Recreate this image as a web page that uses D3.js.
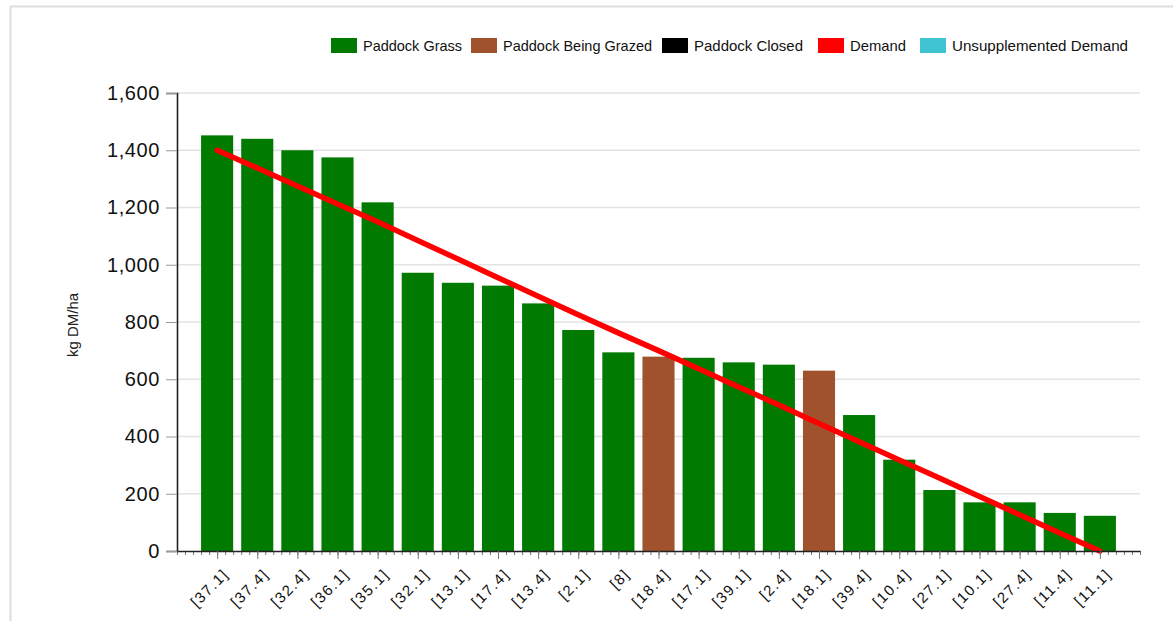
<!DOCTYPE html>
<html>
<head>
<meta charset="utf-8">
<script src="https://cdn.jsdelivr.net/npm/d3@7/dist/d3.min.js"></script>
<style>
  html, body { margin: 0; padding: 0; background: #fff; }
  svg { display: block; }
</style>
</head>
<body>
<svg id="chart" width="1173" height="621"></svg>
<script>
// ---- data ----
const paddocks = ["[37.1]","[37.4]","[32.4]","[36.1]","[35.1]","[32.1]","[13.1]","[17.4]","[13.4]","[2.1]","[8]","[18.4]","[17.1]","[39.1]","[2.4]","[18.1]","[39.4]","[10.4]","[27.1]","[10.1]","[27.4]","[11.4]","[11.1]"];
const cover = [1452,1440,1400,1375,1218,972,937,927,865,772,694,679,675,659,651,630,475,319,213,170,170,133,123];
const status = ["grass","grass","grass","grass","grass","grass","grass","grass","grass","grass","grass","grazed","grass","grass","grass","grazed","grass","grass","grass","grass","grass","grass","grass"];
const demand = [1400,1338,1275,1212,1150,1085,1020,955,890,825,762,700,637,573,510,445,382,318,255,190,127,63,0];
const yTicks = [0,200,400,600,800,1000,1200,1400,1600];
const legendLabels = ["Paddock Grass","Paddock Being Grazed","Paddock Closed","Demand","Unsupplemented Demand"];
const legendKeys = ["grass","grazed","closed","demand","unsupp"];

// ---- styles ----
const colors = {grass:"#007a00", grazed:"#a0522d", closed:"#000000", demand:"#ff0000", unsupp:"#40c4d4"};

(function () {
const svg = d3.select("#chart");
const mLeft = 177, mRight = 1140, mTop = 93, mBottom = 551;

// frame
svg.append("rect").attr("x",10.5).attr("y",6.5).attr("width",1200).attr("height",700)
  .attr("fill","none").attr("stroke","#dedede").attr("stroke-width",2);

const x = d3.scaleLinear().domain([0, paddocks.length + 1]).range([mLeft, mRight]);
const y = d3.scaleLinear().domain([0, 1600]).range([mBottom, mTop]);
const step = x(1) - x(0);
const barW = step * 0.8;

// gridlines
svg.append("g").selectAll("line").data(yTicks.filter(d => d > 0)).join("line")
  .attr("x1", mLeft).attr("x2", mRight)
  .attr("y1", d => y(d)).attr("y2", d => y(d))
  .attr("stroke","#e3e3e3").attr("stroke-width",1.6);

// bars
svg.append("g").selectAll("rect").data(cover).join("rect")
  .attr("x", (d,i) => x(i+1) - barW/2)
  .attr("width", barW)
  .attr("y", d => y(d))
  .attr("height", d => y(0) - y(d))
  .attr("fill", (d,i) => colors[status[i]]);

// demand line
const line = d3.line().x((d,i) => x(i+1)).y(d => y(d));
svg.append("path").datum(demand).attr("d", line)
  .attr("fill","none").attr("stroke", colors.demand).attr("stroke-width",5.5)
  .attr("stroke-linecap","round").attr("stroke-linejoin","round");

// y axis
const yAxis = d3.axisLeft(y).tickValues(yTicks).tickFormat(d3.format(",")).tickSize(11).tickPadding(6);
const gy = svg.append("g").attr("transform",`translate(${mLeft},0)`).call(yAxis);
gy.select(".domain").attr("stroke","#222").attr("stroke-width",1.6);
gy.selectAll(".tick line").attr("stroke","#999").attr("stroke-width",1);
gy.selectAll(".tick text").attr("font-family","'Liberation Sans', Arial, sans-serif")
  .attr("font-size",20).attr("letter-spacing","0.6px").attr("fill","#111");

// x axis: minor ticks
const minor = d3.range(0, (paddocks.length + 1) * 5 + 1).map(k => k / 5);
const gxMinor = svg.append("g").attr("transform",`translate(0,${mBottom})`)
  .call(d3.axisBottom(x).tickValues(minor).tickSize(4).tickFormat(""));
gxMinor.select(".domain").remove();
gxMinor.selectAll(".tick line").attr("stroke","#777");

const gx = svg.append("g").attr("transform",`translate(0,${mBottom})`)
  .call(d3.axisBottom(x).tickValues(d3.range(1, paddocks.length + 1)).tickSize(8)
        .tickFormat(i => paddocks[i-1]).tickSizeOuter(0));
gx.select(".domain").attr("stroke","#222").attr("stroke-width",1.6);
gx.selectAll(".tick line").attr("stroke","#777");
gx.selectAll(".tick text")
  .attr("font-family","'Liberation Sans', Arial, sans-serif")
  .attr("font-size",15).attr("letter-spacing","1.5px").attr("fill","#111")
  .attr("text-anchor","end")
  .attr("dy",0).attr("y",0)
  .attr("transform","translate(12,24) rotate(-45)");

// y title
svg.append("text").attr("transform","translate(78,325) rotate(-90)")
  .attr("text-anchor","middle").attr("font-family","'Liberation Sans', Arial, sans-serif")
  .attr("font-size",15).attr("fill","#222").text("kg DM/ha");

// legend
const legendX = [331, 471, 662, 818, 920];
const legendW = [99, 149, 109, 56, 176];
const lg = svg.append("g").selectAll("g").data(legendLabels).join("g")
  .attr("transform", (d,i) => `translate(${legendX[i]},38)`);
lg.append("rect").attr("width",26).attr("height",15)
  .attr("fill", (d,i) => colors[legendKeys[i]]);
lg.append("text").attr("x",32).attr("y",13)
  .attr("font-family","'Liberation Sans Narrow', 'Arial Narrow', 'Liberation Sans', sans-serif")
  .attr("font-size",15).attr("fill","#111")
  .attr("textLength",(d,i) => legendW[i]).attr("lengthAdjust","spacingAndGlyphs")
  .text(d => d);
})();
</script>
</body>
</html>
